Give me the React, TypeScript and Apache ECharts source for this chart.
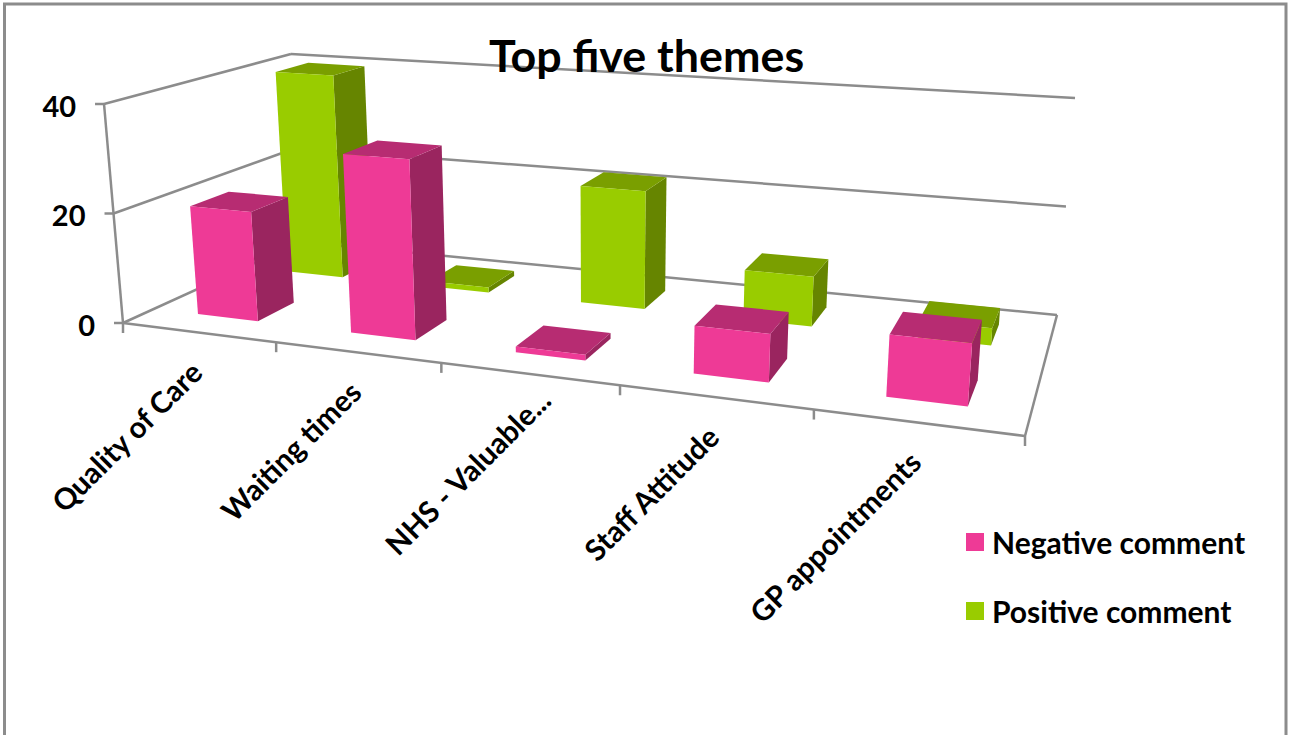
import React, { useEffect, useRef } from "react";
import * as echarts from "echarts";

const categories = ["Quality of Care", "Waiting times", "NHS - Valuable...", "Staff Attitude", "GP appointments"];
const negativeValues = [20, 32, 1, 8, 10];
const positiveValues = [40, 1, 22, 9, 3];
const valueTicks = [0, 20, 40];
const AXIS_MAX = 40;

const FONT = "Lato, 'Noto Sans', sans-serif";
const AXIS_GREY = "#8c8c8c";
const PINK = { front: "#ee3a96", side: "#9a255f", top: "#b72c72" };
const GREEN = { front: "#99cc00", side: "#668500", top: "#7a9f00" };

type Pt = [number, number];

// Corners of the floor and ceiling planes of the 3D box: front-left, front-right, back-right, back-left.
const FLOOR: Pt[] = [[123, 323], [1025, 436], [1057, 315], [301, 242]];
const CEILING: Pt[] = [[105, 104], [1046, 171], [1075, 98], [292, 54]];
// Point far below the chart where all upright edges of the box converge.
const VERTICAL_VANISH: Pt = [600, 5830];
// Evens out the spacing of the category bands along the box.
const BAND_SKEW = 1.034;

// Projective map from the unit square onto a quadrilateral.
function squareToQuad(q: Pt[]) {
  const [[x0, y0], [x1, y1], [x2, y2], [x3, y3]] = q;
  const dx1 = x1 - x2, dx2 = x3 - x2, sx = x0 - x1 + x2 - x3;
  const dy1 = y1 - y2, dy2 = y3 - y2, sy = y0 - y1 + y2 - y3;
  const den = dx1 * dy2 - dx2 * dy1;
  const g = (sx * dy2 - dx2 * sy) / den;
  const h = (dx1 * sy - sx * dy1) / den;
  const a = x1 - x0 + g * x1, b = x3 - x0 + h * x3, c = x0;
  const d = y1 - y0 + g * y1, e = y3 - y0 + h * y3, f = y0;
  return (u: number, v: number): Pt => {
    const w = g * u + h * v + 1;
    return [(a * u + b * v + c) / w, (d * u + e * v + f) / w];
  };
}

const floorMap = squareToQuad(FLOOR);
const ceilingMap = squareToQuad(CEILING);

// x runs over category bands, depth over 0 (front) to 1 (back), value up the wall.
function project(x: number, depth: number, value: number): Pt {
  const s = x / categories.length;
  const u = (BAND_SKEW * s) / (1 + (BAND_SKEW - 1) * s);
  const p0 = floorMap(u, depth);
  const topY = ceilingMap(u, depth)[1];
  const y = p0[1] + (topY - p0[1]) * (value / AXIS_MAX);
  const [vx, vy] = VERTICAL_VANISH;
  return [vx + ((p0[0] - vx) * (vy - y)) / (vy - p0[1]), y];
}

const BAR_START = 0.3;
const BAR_END = 0.7;

function barRenderer(colors: typeof PINK, depthStart: number, depthEnd: number) {
  return (_params: any, api: any) => {
    const i = api.value(0);
    const v = api.value(1);
    const x0 = i + BAR_START, x1 = i + BAR_END;
    const poly = (points: Pt[], fill: string) => ({ type: "polygon", shape: { points }, style: { fill } });
    return {
      type: "group",
      children: [
        poly([project(x1, depthStart, 0), project(x1, depthEnd, 0), project(x1, depthEnd, v), project(x1, depthStart, v)], colors.side),
        poly([project(x0, depthStart, v), project(x1, depthStart, v), project(x1, depthEnd, v), project(x0, depthEnd, v)], colors.top),
        poly([project(x0, depthStart, 0), project(x1, depthStart, 0), project(x1, depthStart, v), project(x0, depthStart, v)], colors.front),
      ],
    };
  };
}

const line = (a: Pt, b: Pt) => ({
  type: "line",
  shape: { x1: a[0], y1: a[1], x2: b[0], y2: b[1] },
  style: { stroke: AXIS_GREY, lineWidth: 2.5 },
});

function renderGridLevel(_params: any, api: any) {
  const v = api.value(0);
  const n = categories.length;
  const left = project(0, 0, v);
  const children: any[] = [
    line(left, project(0, 1, v)),
    line(project(0, 1, v), project(n, 1, v)),
    line([left[0] - 9, left[1]], left),
    {
      type: "text",
      style: {
        text: String(v),
        x: left[0] - 28,
        y: left[1] + 1,
        align: "right",
        verticalAlign: "middle",
        font: `bold 29px ${FONT}`,
        fill: "#000",
      },
    },
  ];
  return { type: "group", children };
}

function renderCategoryTick(_params: any, api: any) {
  const i = api.value(0);
  const tick = project(i, 0, 0);
  const children: any[] = [line(tick, [tick[0], tick[1] + 10])];
  if (i < categories.length) {
    const mid = project(i + 0.5, 0, 0);
    // A shortened label keeps its full width's slot, so it sits further along its slant.
    const slide = categories[i].endsWith("...") ? 18 : 0;
    children.push({
      type: "text",
      x: mid[0] - 2 + slide,
      y: mid[1] + 34 - slide * 0.75,
      rotation: Math.PI / 4,
      style: {
        text: categories[i],
        x: 0,
        y: 0,
        align: "right",
        verticalAlign: "middle",
        font: `bold 29.5px ${FONT}`,
        fill: "#000",
      },
    });
  }
  return { type: "group", children };
}

function renderBox() {
  const n = categories.length;
  return {
    type: "group",
    children: [
      line(project(0, 0, 0), project(0, 0, AXIS_MAX)),
      line(project(0, 0, 0), project(n, 0, 0)),
      line(project(n, 0, 0), project(n, 1, 0)),
    ],
  };
}

export default function App() {
  const ref = useRef<HTMLDivElement>(null);
  useEffect(() => {
    const chart = echarts.init(ref.current!, undefined, { renderer: "svg" });
    chart.setOption({
      animation: false,
      backgroundColor: "#fff",
      title: {
        text: "Top five themes",
        left: 641.5,
        top: 27,
        textAlign: "center",
        textStyle: { fontFamily: FONT, fontWeight: "bold", fontSize: 44.8, color: "#000" },
      },
      legend: {
        orient: "vertical",
        left: 961,
        top: 522,
        itemWidth: 18,
        itemHeight: 18,
        itemGap: 39,
        icon: "rect",
        data: ["Negative comment", "Positive comment"],
        textStyle: { fontFamily: FONT, fontWeight: "bold", fontSize: 30, color: "#000", padding: [0, 0, 4, 3] },
      },
      graphic: [
        {
          type: "rect",
          silent: true,
          shape: { x: 4.5, y: 4, width: 1281.5, height: 800 },
          style: { fill: "none", stroke: AXIS_GREY, lineWidth: 3 },
        },
      ],
      series: [
        { type: "custom", coordinateSystem: "none", silent: true, data: valueTicks.map((v) => [v]), renderItem: renderGridLevel },
        { type: "custom", coordinateSystem: "none", silent: true, data: [[0]], renderItem: renderBox },
        {
          type: "custom",
          coordinateSystem: "none",
          silent: true,
          data: [...categories.map((_, i) => [i]), [categories.length]],
          renderItem: renderCategoryTick,
        },
        {
          name: "Positive comment",
          type: "custom",
          coordinateSystem: "none",
          silent: true,
          itemStyle: { color: GREEN.front },
          data: positiveValues.map((v, i) => [i, v]),
          renderItem: barRenderer(GREEN, 0.65, 0.85),
        },
        {
          name: "Negative comment",
          type: "custom",
          coordinateSystem: "none",
          silent: true,
          itemStyle: { color: PINK.front },
          data: negativeValues.map((v, i) => [i, v]),
          renderItem: barRenderer(PINK, 0.15, 0.35),
        },
      ],
    });
    return () => chart.dispose();
  }, []);
  return <div ref={ref} style={{ position: "absolute", left: 0, top: 0, width: 1290, height: 735 }} />;
}
